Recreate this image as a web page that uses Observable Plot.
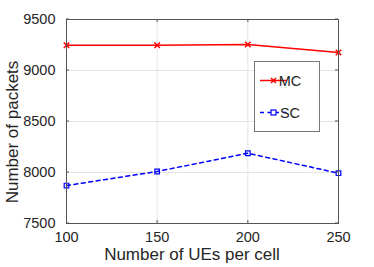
<!DOCTYPE html>
<html><head><meta charset="utf-8">
<script src="https://cdn.jsdelivr.net/npm/d3@7"></script>
<script src="https://cdn.jsdelivr.net/npm/@observablehq/plot@0.6"></script>
<style>body{margin:0;background:#fff;font-family:"Liberation Sans",Arial,sans-serif}</style>
</head><body><div id="chart"></div>
<script>
const ues = [100, 150, 200, 250];
const mc = [9248, 9248, 9255, 9176];
const sc = [7872, 8010, 8189, 7993];
const xTicks = [100, 150, 200, 250];
const yTicks = [7500, 8000, 8500, 9000, 9500];
const seriesNames = ["MC", "SC"];

const data = [
  ...ues.map((u, i) => ({x: u, y: mc[i], s: "MC"})),
  ...ues.map((u, i) => ({x: u, y: sc[i], s: "SC"}))
];
const mcData = data.filter(d => d.s === "MC");
const scData = data.filter(d => d.s === "SC");

const chart = Plot.plot({
  width: 374, height: 267,
  marginLeft: 66, marginRight: 36, marginTop: 19, marginBottom: 44,
  style: {fontFamily: "Liberation Sans, Arial, sans-serif", background: "#fff"},
  x: {domain: [100, 250], ticks: xTicks},
  y: {domain: [7500, 9500], ticks: yTicks},
  marks: [
    Plot.gridX(xTicks, {stroke: "#e4e4e4", strokeOpacity: 1}),
    Plot.gridY(yTicks, {stroke: "#e4e4e4", strokeOpacity: 1}),
    Plot.axisX(xTicks, {tickSize: 0, tickPadding: 8, fontSize: 14.5, fill: "#262626", label: null, tickFormat: "d"}),
    Plot.axisY(yTicks, {tickSize: 0, tickPadding: 11, fontSize: 14.5, fill: "#262626", label: null, tickFormat: "d"}),
    Plot.ruleX(xTicks, {y1: 7500, y2: 7530, stroke: "#555"}),
    Plot.ruleX(xTicks, {y1: 9500, y2: 9470, stroke: "#555"}),
    Plot.line(mcData, {x: "x", y: "y", stroke: "#ff0000", strokeWidth: 1.5}),
    Plot.dot(mcData, {x: "x", y: "y", stroke: "#ff0000", symbol: "times", r: 2.6, strokeWidth: 1.5}),
    Plot.line(scData, {x: "x", y: "y", stroke: "#0000ff", strokeWidth: 1.5, strokeDasharray: "4,3.5"}),
    Plot.dot(scData, {x: "x", y: "y", stroke: "#0000ff", fill: "none", symbol: "square", r: 2.6, strokeWidth: 1.2}),
    Plot.frame({stroke: "#555", strokeOpacity: 1})
  ]
});
document.getElementById("chart").appendChild(chart);

const svg = d3.select(chart);
// axis labels
svg.append("text").attr("x", 192).attr("y", 260).attr("text-anchor", "middle")
  .attr("font-size", 17).attr("fill", "#262626").text("Number of UEs per cell");
svg.append("text").attr("transform", "translate(12,132) rotate(-90)").attr("text-anchor", "middle")
  .attr("dy", "0.35em").attr("font-size", 17).attr("fill", "#262626").text("Number of packets");

// inward y ticks
const yScale = chart.scale("y");
for (const t of yTicks) {
  const yy = yScale.apply(t);
  svg.append("line").attr("x1", 66).attr("x2", 69).attr("y1", yy).attr("y2", yy).attr("stroke", "#555");
  svg.append("line").attr("x1", 338).attr("x2", 335).attr("y1", yy).attr("y2", yy).attr("stroke", "#555");
}

// legend
const lg = svg.append("g");
lg.append("rect").attr("x", 254.5).attr("y", 61.5).attr("width", 65).attr("height", 70)
  .attr("fill", "#fff").attr("stroke", "#777").attr("stroke-width", 1);
const items = [
  {name: seriesNames[0], color: "#ff0000", dash: null, y: 80.5},
  {name: seriesNames[1], color: "#0000ff", dash: "4,3.5", y: 112.5}
];
for (const it of items) {
  lg.append("line").attr("x1", 260).attr("x2", 287).attr("y1", it.y).attr("y2", it.y)
    .attr("stroke", it.color).attr("stroke-width", 1.5).attr("stroke-dasharray", it.dash);
  if (it.name === "MC") {
    lg.append("path").attr("d", `M271,${it.y-2.5}l5,5M276,${it.y-2.5}l-5,5`).attr("stroke", it.color).attr("stroke-width", 1.5);
  } else {
    lg.append("rect").attr("x", 271).attr("y", it.y - 2.5).attr("width", 5).attr("height", 5)
      .attr("fill", "#fff").attr("stroke", it.color).attr("stroke-width", 1.2);
  }
  lg.append("text").attr("x", 290).attr("y", it.y).attr("dy", "0.36em")
    .attr("font-size", 14.5).attr("fill", "#262626").text(it.name);
}
</script></body></html>
